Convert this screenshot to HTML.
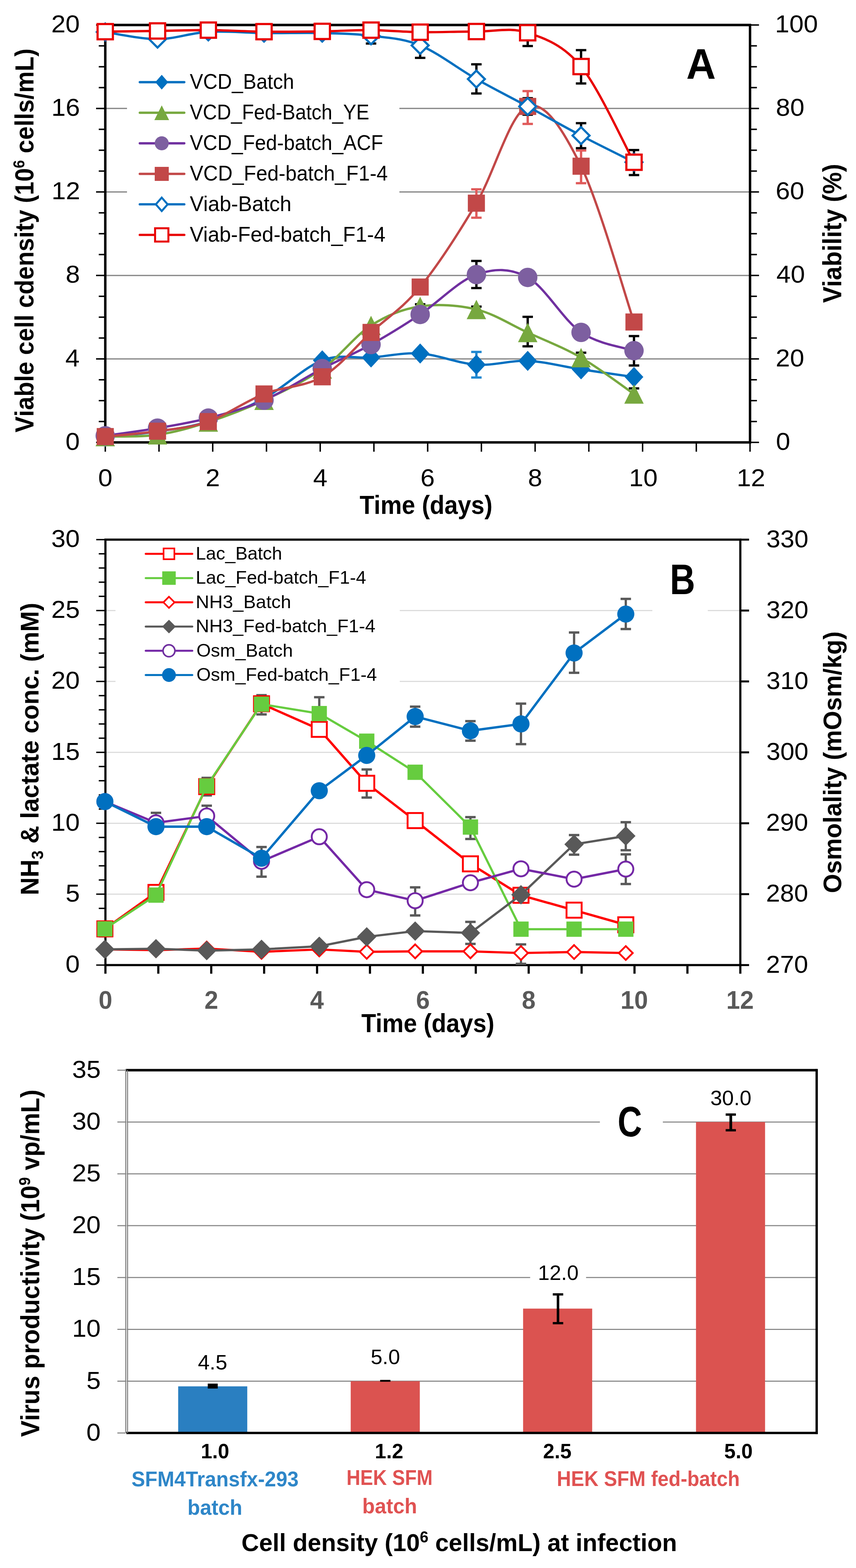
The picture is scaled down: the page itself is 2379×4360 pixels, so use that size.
<!DOCTYPE html>
<html><head><meta charset="utf-8"><title>Figure</title><style>html,body{margin:0;padding:0;background:#fff;overflow:hidden;}svg{display:block;}</style></head><body>
<svg width="2379" height="4360" viewBox="0 0 2379 4360" font-family="'Liberation Sans', Arial, sans-serif">
<rect width="100%" height="100%" fill="#fff"/>
<line x1="292.6" y1="998" x2="2084.5" y2="998" stroke="#878787" stroke-width="3.5" stroke-linecap="butt"/>
<line x1="292.6" y1="765.9" x2="2084.5" y2="765.9" stroke="#878787" stroke-width="3.5" stroke-linecap="butt"/>
<line x1="292.6" y1="533.7" x2="2084.5" y2="533.7" stroke="#878787" stroke-width="3.5" stroke-linecap="butt"/>
<line x1="292.6" y1="301.6" x2="2084.5" y2="301.6" stroke="#878787" stroke-width="3.5" stroke-linecap="butt"/>
<rect x="353" y="185" width="757" height="520" fill="#fff"/>
<line x1="267" y1="1230.1" x2="292.6" y2="1230.1" stroke="#000" stroke-width="4" stroke-linecap="butt"/>
<line x1="2084.5" y1="1230.1" x2="2109.4" y2="1230.1" stroke="#000" stroke-width="4" stroke-linecap="butt"/>
<line x1="274.5" y1="1172.1" x2="292.6" y2="1172.1" stroke="#000" stroke-width="4" stroke-linecap="butt"/>
<line x1="2084.5" y1="1172.1" x2="2103.6" y2="1172.1" stroke="#000" stroke-width="4" stroke-linecap="butt"/>
<line x1="274.5" y1="1114" x2="292.6" y2="1114" stroke="#000" stroke-width="4" stroke-linecap="butt"/>
<line x1="2084.5" y1="1114" x2="2103.6" y2="1114" stroke="#000" stroke-width="4" stroke-linecap="butt"/>
<line x1="274.5" y1="1056" x2="292.6" y2="1056" stroke="#000" stroke-width="4" stroke-linecap="butt"/>
<line x1="2084.5" y1="1056" x2="2103.6" y2="1056" stroke="#000" stroke-width="4" stroke-linecap="butt"/>
<line x1="267" y1="998" x2="292.6" y2="998" stroke="#000" stroke-width="4" stroke-linecap="butt"/>
<line x1="2084.5" y1="998" x2="2109.4" y2="998" stroke="#000" stroke-width="4" stroke-linecap="butt"/>
<line x1="274.5" y1="939.9" x2="292.6" y2="939.9" stroke="#000" stroke-width="4" stroke-linecap="butt"/>
<line x1="2084.5" y1="939.9" x2="2103.6" y2="939.9" stroke="#000" stroke-width="4" stroke-linecap="butt"/>
<line x1="274.5" y1="881.9" x2="292.6" y2="881.9" stroke="#000" stroke-width="4" stroke-linecap="butt"/>
<line x1="2084.5" y1="881.9" x2="2103.6" y2="881.9" stroke="#000" stroke-width="4" stroke-linecap="butt"/>
<line x1="274.5" y1="823.9" x2="292.6" y2="823.9" stroke="#000" stroke-width="4" stroke-linecap="butt"/>
<line x1="2084.5" y1="823.9" x2="2103.6" y2="823.9" stroke="#000" stroke-width="4" stroke-linecap="butt"/>
<line x1="267" y1="765.9" x2="292.6" y2="765.9" stroke="#000" stroke-width="4" stroke-linecap="butt"/>
<line x1="2084.5" y1="765.9" x2="2109.4" y2="765.9" stroke="#000" stroke-width="4" stroke-linecap="butt"/>
<line x1="274.5" y1="707.8" x2="292.6" y2="707.8" stroke="#000" stroke-width="4" stroke-linecap="butt"/>
<line x1="2084.5" y1="707.8" x2="2103.6" y2="707.8" stroke="#000" stroke-width="4" stroke-linecap="butt"/>
<line x1="274.5" y1="649.8" x2="292.6" y2="649.8" stroke="#000" stroke-width="4" stroke-linecap="butt"/>
<line x1="2084.5" y1="649.8" x2="2103.6" y2="649.8" stroke="#000" stroke-width="4" stroke-linecap="butt"/>
<line x1="274.5" y1="591.8" x2="292.6" y2="591.8" stroke="#000" stroke-width="4" stroke-linecap="butt"/>
<line x1="2084.5" y1="591.8" x2="2103.6" y2="591.8" stroke="#000" stroke-width="4" stroke-linecap="butt"/>
<line x1="267" y1="533.7" x2="292.6" y2="533.7" stroke="#000" stroke-width="4" stroke-linecap="butt"/>
<line x1="2084.5" y1="533.7" x2="2109.4" y2="533.7" stroke="#000" stroke-width="4" stroke-linecap="butt"/>
<line x1="274.5" y1="475.7" x2="292.6" y2="475.7" stroke="#000" stroke-width="4" stroke-linecap="butt"/>
<line x1="2084.5" y1="475.7" x2="2103.6" y2="475.7" stroke="#000" stroke-width="4" stroke-linecap="butt"/>
<line x1="274.5" y1="417.7" x2="292.6" y2="417.7" stroke="#000" stroke-width="4" stroke-linecap="butt"/>
<line x1="2084.5" y1="417.7" x2="2103.6" y2="417.7" stroke="#000" stroke-width="4" stroke-linecap="butt"/>
<line x1="274.5" y1="359.6" x2="292.6" y2="359.6" stroke="#000" stroke-width="4" stroke-linecap="butt"/>
<line x1="2084.5" y1="359.6" x2="2103.6" y2="359.6" stroke="#000" stroke-width="4" stroke-linecap="butt"/>
<line x1="267" y1="301.6" x2="292.6" y2="301.6" stroke="#000" stroke-width="4" stroke-linecap="butt"/>
<line x1="2084.5" y1="301.6" x2="2109.4" y2="301.6" stroke="#000" stroke-width="4" stroke-linecap="butt"/>
<line x1="274.5" y1="243.6" x2="292.6" y2="243.6" stroke="#000" stroke-width="4" stroke-linecap="butt"/>
<line x1="2084.5" y1="243.6" x2="2103.6" y2="243.6" stroke="#000" stroke-width="4" stroke-linecap="butt"/>
<line x1="274.5" y1="185.6" x2="292.6" y2="185.6" stroke="#000" stroke-width="4" stroke-linecap="butt"/>
<line x1="2084.5" y1="185.6" x2="2103.6" y2="185.6" stroke="#000" stroke-width="4" stroke-linecap="butt"/>
<line x1="274.5" y1="127.5" x2="292.6" y2="127.5" stroke="#000" stroke-width="4" stroke-linecap="butt"/>
<line x1="2084.5" y1="127.5" x2="2103.6" y2="127.5" stroke="#000" stroke-width="4" stroke-linecap="butt"/>
<line x1="267" y1="69.5" x2="292.6" y2="69.5" stroke="#000" stroke-width="4" stroke-linecap="butt"/>
<line x1="2084.5" y1="69.5" x2="2109.4" y2="69.5" stroke="#000" stroke-width="4" stroke-linecap="butt"/>
<line x1="292.6" y1="1230.1" x2="292.6" y2="1256" stroke="#000" stroke-width="4" stroke-linecap="butt"/>
<line x1="441.9" y1="1230.1" x2="441.9" y2="1256" stroke="#000" stroke-width="4" stroke-linecap="butt"/>
<line x1="591.2" y1="1230.1" x2="591.2" y2="1256" stroke="#000" stroke-width="4" stroke-linecap="butt"/>
<line x1="740.6" y1="1230.1" x2="740.6" y2="1256" stroke="#000" stroke-width="4" stroke-linecap="butt"/>
<line x1="889.9" y1="1230.1" x2="889.9" y2="1256" stroke="#000" stroke-width="4" stroke-linecap="butt"/>
<line x1="1039.2" y1="1230.1" x2="1039.2" y2="1256" stroke="#000" stroke-width="4" stroke-linecap="butt"/>
<line x1="1188.6" y1="1230.1" x2="1188.6" y2="1256" stroke="#000" stroke-width="4" stroke-linecap="butt"/>
<line x1="1337.9" y1="1230.1" x2="1337.9" y2="1256" stroke="#000" stroke-width="4" stroke-linecap="butt"/>
<line x1="1487.2" y1="1230.1" x2="1487.2" y2="1256" stroke="#000" stroke-width="4" stroke-linecap="butt"/>
<line x1="1636.5" y1="1230.1" x2="1636.5" y2="1256" stroke="#000" stroke-width="4" stroke-linecap="butt"/>
<line x1="1785.9" y1="1230.1" x2="1785.9" y2="1256" stroke="#000" stroke-width="4" stroke-linecap="butt"/>
<line x1="1935.2" y1="1230.1" x2="1935.2" y2="1256" stroke="#000" stroke-width="4" stroke-linecap="butt"/>
<line x1="2084.5" y1="1230.1" x2="2084.5" y2="1256" stroke="#000" stroke-width="4" stroke-linecap="butt"/>
<path d="M292.6,69.5 H2084.5 V1230.1 H292.6 Z" fill="none" stroke="#000" stroke-width="6.8"/>
<line x1="1324" y1="978.6" x2="1324" y2="1049.7" stroke="#1F87D0" stroke-width="6.5" stroke-linecap="butt"/>
<line x1="1309.5" y1="978.6" x2="1338.5" y2="978.6" stroke="#1F87D0" stroke-width="6.3" stroke-linecap="butt"/>
<line x1="1309.5" y1="1049.7" x2="1338.5" y2="1049.7" stroke="#1F87D0" stroke-width="6.3" stroke-linecap="butt"/>
<line x1="1167.7" y1="846" x2="1167.7" y2="858" stroke="#000" stroke-width="6.5" stroke-linecap="butt"/>
<line x1="1153.2" y1="846" x2="1182.2" y2="846" stroke="#000" stroke-width="6.3" stroke-linecap="butt"/>
<line x1="1153.2" y1="858" x2="1182.2" y2="858" stroke="#000" stroke-width="6.3" stroke-linecap="butt"/>
<line x1="1324" y1="852.5" x2="1324" y2="868.5" stroke="#000" stroke-width="6.5" stroke-linecap="butt"/>
<line x1="1309.5" y1="852.5" x2="1338.5" y2="852.5" stroke="#000" stroke-width="6.3" stroke-linecap="butt"/>
<line x1="1309.5" y1="868.5" x2="1338.5" y2="868.5" stroke="#000" stroke-width="6.3" stroke-linecap="butt"/>
<line x1="1466.6" y1="881" x2="1466.6" y2="963" stroke="#000" stroke-width="6.5" stroke-linecap="butt"/>
<line x1="1452.1" y1="881" x2="1481.1" y2="881" stroke="#000" stroke-width="6.3" stroke-linecap="butt"/>
<line x1="1452.1" y1="963" x2="1481.1" y2="963" stroke="#000" stroke-width="6.3" stroke-linecap="butt"/>
<line x1="1614.9" y1="980.7" x2="1614.9" y2="1016" stroke="#000" stroke-width="6.5" stroke-linecap="butt"/>
<line x1="1600.4" y1="980.7" x2="1629.4" y2="980.7" stroke="#000" stroke-width="6.3" stroke-linecap="butt"/>
<line x1="1600.4" y1="1016" x2="1629.4" y2="1016" stroke="#000" stroke-width="6.3" stroke-linecap="butt"/>
<line x1="1762" y1="1080" x2="1762" y2="1116" stroke="#000" stroke-width="6.5" stroke-linecap="butt"/>
<line x1="1747.5" y1="1080" x2="1776.5" y2="1080" stroke="#000" stroke-width="6.3" stroke-linecap="butt"/>
<line x1="1747.5" y1="1116" x2="1776.5" y2="1116" stroke="#000" stroke-width="6.3" stroke-linecap="butt"/>
<line x1="1324" y1="725.6" x2="1324" y2="801" stroke="#000" stroke-width="6.5" stroke-linecap="butt"/>
<line x1="1309.5" y1="725.6" x2="1338.5" y2="725.6" stroke="#000" stroke-width="6.3" stroke-linecap="butt"/>
<line x1="1309.5" y1="801" x2="1338.5" y2="801" stroke="#000" stroke-width="6.3" stroke-linecap="butt"/>
<line x1="1762" y1="934.5" x2="1762" y2="1016.3" stroke="#000" stroke-width="6.5" stroke-linecap="butt"/>
<line x1="1747.5" y1="934.5" x2="1776.5" y2="934.5" stroke="#000" stroke-width="6.3" stroke-linecap="butt"/>
<line x1="1747.5" y1="1016.3" x2="1776.5" y2="1016.3" stroke="#000" stroke-width="6.3" stroke-linecap="butt"/>
<line x1="1324" y1="526.4" x2="1324" y2="605.4" stroke="#E05A5A" stroke-width="6.5" stroke-linecap="butt"/>
<line x1="1309.5" y1="526.4" x2="1338.5" y2="526.4" stroke="#E05A5A" stroke-width="6.3" stroke-linecap="butt"/>
<line x1="1309.5" y1="605.4" x2="1338.5" y2="605.4" stroke="#E05A5A" stroke-width="6.3" stroke-linecap="butt"/>
<line x1="1466.6" y1="253.3" x2="1466.6" y2="344.6" stroke="#E05A5A" stroke-width="6.5" stroke-linecap="butt"/>
<line x1="1452.1" y1="253.3" x2="1481.1" y2="253.3" stroke="#E05A5A" stroke-width="6.3" stroke-linecap="butt"/>
<line x1="1452.1" y1="344.6" x2="1481.1" y2="344.6" stroke="#E05A5A" stroke-width="6.3" stroke-linecap="butt"/>
<line x1="1614.9" y1="418.5" x2="1614.9" y2="509.4" stroke="#E05A5A" stroke-width="6.5" stroke-linecap="butt"/>
<line x1="1600.4" y1="418.5" x2="1629.4" y2="418.5" stroke="#E05A5A" stroke-width="6.3" stroke-linecap="butt"/>
<line x1="1600.4" y1="509.4" x2="1629.4" y2="509.4" stroke="#E05A5A" stroke-width="6.3" stroke-linecap="butt"/>
<line x1="1031.2" y1="74.6" x2="1031.2" y2="121" stroke="#000" stroke-width="6.5" stroke-linecap="butt"/>
<line x1="1016.7" y1="74.6" x2="1045.7" y2="74.6" stroke="#000" stroke-width="6.3" stroke-linecap="butt"/>
<line x1="1016.7" y1="121" x2="1045.7" y2="121" stroke="#000" stroke-width="6.3" stroke-linecap="butt"/>
<line x1="1167.7" y1="92" x2="1167.7" y2="160.9" stroke="#000" stroke-width="6.5" stroke-linecap="butt"/>
<line x1="1153.2" y1="92" x2="1182.2" y2="92" stroke="#000" stroke-width="6.3" stroke-linecap="butt"/>
<line x1="1153.2" y1="160.9" x2="1182.2" y2="160.9" stroke="#000" stroke-width="6.3" stroke-linecap="butt"/>
<line x1="1324" y1="178.8" x2="1324" y2="259.9" stroke="#000" stroke-width="6.5" stroke-linecap="butt"/>
<line x1="1309.5" y1="178.8" x2="1338.5" y2="178.8" stroke="#000" stroke-width="6.3" stroke-linecap="butt"/>
<line x1="1309.5" y1="259.9" x2="1338.5" y2="259.9" stroke="#000" stroke-width="6.3" stroke-linecap="butt"/>
<line x1="1466.6" y1="273" x2="1466.6" y2="319" stroke="#000" stroke-width="6.5" stroke-linecap="butt"/>
<line x1="1452.1" y1="273" x2="1481.1" y2="273" stroke="#000" stroke-width="6.3" stroke-linecap="butt"/>
<line x1="1452.1" y1="319" x2="1481.1" y2="319" stroke="#000" stroke-width="6.3" stroke-linecap="butt"/>
<line x1="1614.9" y1="342.5" x2="1614.9" y2="412" stroke="#000" stroke-width="6.5" stroke-linecap="butt"/>
<line x1="1600.4" y1="342.5" x2="1629.4" y2="342.5" stroke="#000" stroke-width="6.3" stroke-linecap="butt"/>
<line x1="1600.4" y1="412" x2="1629.4" y2="412" stroke="#000" stroke-width="6.3" stroke-linecap="butt"/>
<line x1="1762" y1="417.2" x2="1762" y2="486.8" stroke="#000" stroke-width="6.5" stroke-linecap="butt"/>
<line x1="1747.5" y1="417.2" x2="1776.5" y2="417.2" stroke="#000" stroke-width="6.3" stroke-linecap="butt"/>
<line x1="1747.5" y1="486.8" x2="1776.5" y2="486.8" stroke="#000" stroke-width="6.3" stroke-linecap="butt"/>
<line x1="1466.6" y1="72" x2="1466.6" y2="128" stroke="#000" stroke-width="6.5" stroke-linecap="butt"/>
<line x1="1452.1" y1="128" x2="1481.1" y2="128" stroke="#000" stroke-width="6.3" stroke-linecap="butt"/>
<line x1="1614.9" y1="139.4" x2="1614.9" y2="232.1" stroke="#000" stroke-width="6.5" stroke-linecap="butt"/>
<line x1="1600.4" y1="139.4" x2="1629.4" y2="139.4" stroke="#000" stroke-width="6.3" stroke-linecap="butt"/>
<line x1="1600.4" y1="232.1" x2="1629.4" y2="232.1" stroke="#000" stroke-width="6.3" stroke-linecap="butt"/>
<path d="M292.5,1215 C316.7,1212.5 390.1,1207.2 437.8,1200 C485.6,1192.8 529.7,1187.3 579,1172 C628.3,1156.7 681,1136.3 733.8,1108 C786.6,1079.7 846,1021 895.6,1002 C945.2,983 985.9,997.2 1031.2,994 C1076.5,990.8 1118.9,979.7 1167.7,983 C1216.5,986.3 1274.2,1010.6 1324,1014 C1373.8,1017.4 1418.1,1001.3 1466.6,1003.5 C1515.1,1005.7 1565.7,1019.5 1614.9,1027 C1664.1,1034.5 1737.5,1044.8 1762,1048.3" fill="none" stroke="#0070C0" stroke-width="6.4" stroke-linejoin="round" stroke-linecap="round"/>
<path d="M292.5,1186.9 L318.5,1215 L292.5,1243.1 L266.5,1215 Z" fill="#0070C0" stroke-linejoin="miter"/>
<path d="M437.8,1171.9 L463.8,1200 L437.8,1228.1 L411.8,1200 Z" fill="#0070C0" stroke-linejoin="miter"/>
<path d="M579,1143.9 L605,1172 L579,1200.1 L553,1172 Z" fill="#0070C0" stroke-linejoin="miter"/>
<path d="M733.8,1079.9 L759.8,1108 L733.8,1136.1 L707.8,1108 Z" fill="#0070C0" stroke-linejoin="miter"/>
<path d="M895.6,973.9 L921.6,1002 L895.6,1030.1 L869.6,1002 Z" fill="#0070C0" stroke-linejoin="miter"/>
<path d="M1031.2,965.9 L1057.2,994 L1031.2,1022.1 L1005.2,994 Z" fill="#0070C0" stroke-linejoin="miter"/>
<path d="M1167.7,954.9 L1193.7,983 L1167.7,1011.1 L1141.7,983 Z" fill="#0070C0" stroke-linejoin="miter"/>
<path d="M1324,985.9 L1350,1014 L1324,1042.1 L1298,1014 Z" fill="#0070C0" stroke-linejoin="miter"/>
<path d="M1466.6,975.4 L1492.6,1003.5 L1466.6,1031.6 L1440.6,1003.5 Z" fill="#0070C0" stroke-linejoin="miter"/>
<path d="M1614.9,998.9 L1640.9,1027 L1614.9,1055.1 L1588.9,1027 Z" fill="#0070C0" stroke-linejoin="miter"/>
<path d="M1762,1020.2 L1788,1048.3 L1762,1076.4 L1736,1048.3 Z" fill="#0070C0" stroke-linejoin="miter"/>
<path d="M292.5,1214 C316.7,1213.2 390.1,1215.8 437.8,1209 C485.6,1202.2 529.7,1189.5 579,1173.5 C628.3,1157.5 681,1137.6 733.8,1113 C786.6,1088.4 846,1060.7 895.6,1026 C945.2,991.3 985.9,934 1031.2,905 C1076.5,876 1118.9,859.4 1167.7,852 C1216.5,844.6 1274.2,848.4 1324,860.5 C1373.8,872.6 1418.1,902.3 1466.6,924.6 C1515.1,946.9 1565.7,966 1614.9,994.5 C1664.1,1023 1737.5,1078.7 1762,1095.5" fill="none" stroke="#77A83F" stroke-width="6.4" stroke-linejoin="round" stroke-linecap="round"/>
<path d="M292.5,1187 L319.5,1241 L265.5,1241 Z" fill="#77A83F"/>
<path d="M437.8,1182 L464.8,1236 L410.8,1236 Z" fill="#77A83F"/>
<path d="M579,1146.5 L606,1200.5 L552,1200.5 Z" fill="#77A83F"/>
<path d="M733.8,1086 L760.8,1140 L706.8,1140 Z" fill="#77A83F"/>
<path d="M895.6,999 L922.6,1053 L868.6,1053 Z" fill="#77A83F"/>
<path d="M1031.2,878 L1058.2,932 L1004.2,932 Z" fill="#77A83F"/>
<path d="M1167.7,825 L1194.7,879 L1140.7,879 Z" fill="#77A83F"/>
<path d="M1324,833.5 L1351,887.5 L1297,887.5 Z" fill="#77A83F"/>
<path d="M1466.6,897.6 L1493.6,951.6 L1439.6,951.6 Z" fill="#77A83F"/>
<path d="M1614.9,967.5 L1641.9,1021.5 L1587.9,1021.5 Z" fill="#77A83F"/>
<path d="M1762,1068.5 L1789,1122.5 L1735,1122.5 Z" fill="#77A83F"/>
<path d="M292.5,1211.7 C316.7,1208.2 390.1,1198.6 437.8,1190.4 C485.6,1182.2 529.7,1175.5 579,1162.6 C628.3,1149.7 681,1135.9 733.8,1113 C786.6,1090.1 846,1050.8 895.6,1025 C945.2,999.2 985.9,983.1 1031.2,958 C1076.5,932.9 1118.9,906.8 1167.7,874.4 C1216.5,842 1274.2,780.7 1324,763.5 C1373.8,746.3 1418.1,744.6 1466.6,771.4 C1515.1,798.2 1565.7,890.3 1614.9,924.2 C1664.1,958.1 1737.5,966.5 1762,975" fill="none" stroke="#7030A0" stroke-width="6.4" stroke-linejoin="round" stroke-linecap="round"/>
<circle cx="292.5" cy="1211.7" r="27" fill="#7D5FA0"/>
<circle cx="437.8" cy="1190.4" r="27" fill="#7D5FA0"/>
<circle cx="579" cy="1162.6" r="27" fill="#7D5FA0"/>
<circle cx="733.8" cy="1113" r="27" fill="#7D5FA0"/>
<circle cx="895.6" cy="1025" r="27" fill="#7D5FA0"/>
<circle cx="1031.2" cy="958" r="27" fill="#7D5FA0"/>
<circle cx="1167.7" cy="874.4" r="27" fill="#7D5FA0"/>
<circle cx="1324" cy="763.5" r="27" fill="#7D5FA0"/>
<circle cx="1466.6" cy="771.4" r="27" fill="#7D5FA0"/>
<circle cx="1614.9" cy="924.2" r="27" fill="#7D5FA0"/>
<circle cx="1762" cy="975" r="27" fill="#7D5FA0"/>
<path d="M292.5,1214 C316.7,1211.5 390.1,1206 437.8,1199 C485.6,1192 529.7,1189.5 579,1172.2 C628.3,1154.9 681,1116.2 733.8,1095.4 C786.6,1074.7 846,1076.2 895.6,1047.7 C945.2,1019.2 985.9,966 1031.2,924.4 C1076.5,882.8 1118.9,858 1167.7,798.1 C1216.5,738.2 1274.2,648.7 1324,565 C1373.8,481.3 1418.1,313.1 1466.6,296 C1515.1,278.9 1565.7,362.3 1614.9,462.2 C1664.1,562.1 1737.5,823.2 1762,895.4" fill="none" stroke="#C24848" stroke-width="6.4" stroke-linejoin="round" stroke-linecap="round"/>
<rect x="268.8" y="1190.2" width="47.5" height="47.5" fill="#C24848"/>
<rect x="414.1" y="1175.2" width="47.5" height="47.5" fill="#C24848"/>
<rect x="555.2" y="1148.5" width="47.5" height="47.5" fill="#C24848"/>
<rect x="710" y="1071.7" width="47.5" height="47.5" fill="#C24848"/>
<rect x="871.9" y="1024" width="47.5" height="47.5" fill="#C24848"/>
<rect x="1007.5" y="900.6" width="47.5" height="47.5" fill="#C24848"/>
<rect x="1144" y="774.4" width="47.5" height="47.5" fill="#C24848"/>
<rect x="1300.2" y="541.2" width="47.5" height="47.5" fill="#C24848"/>
<rect x="1442.8" y="272.2" width="47.5" height="47.5" fill="#C24848"/>
<rect x="1591.2" y="438.4" width="47.5" height="47.5" fill="#C24848"/>
<rect x="1738.2" y="871.6" width="47.5" height="47.5" fill="#C24848"/>
<path d="M292.5,89 C316.7,92.3 390.1,108.9 437.8,108.8 C485.6,108.7 529.7,91.3 579,88.5 C628.3,85.7 681,91.4 733.8,92 C786.6,92.6 846,90.8 895.6,92 C945.2,93.2 985.9,93.8 1031.2,99.5 C1076.5,105.2 1118.9,106.2 1167.7,126.3 C1216.5,146.3 1274.2,191.5 1324,219.8 C1373.8,248.1 1418.1,269.8 1466.6,296 C1515.1,322.2 1565.7,351.2 1614.9,377 C1664.1,402.8 1737.5,438.7 1762,451" fill="none" stroke="#0070C0" stroke-width="6.4" stroke-linejoin="round" stroke-linecap="round"/>
<path d="M292.5,65.5 L316,89 L292.5,112.5 L269,89 Z" fill="#fff" stroke="#0070C0" stroke-width="6" stroke-linejoin="miter"/>
<path d="M437.8,85.3 L461.3,108.8 L437.8,132.3 L414.3,108.8 Z" fill="#fff" stroke="#0070C0" stroke-width="6" stroke-linejoin="miter"/>
<path d="M579,65 L602.5,88.5 L579,112 L555.5,88.5 Z" fill="#fff" stroke="#0070C0" stroke-width="6" stroke-linejoin="miter"/>
<path d="M733.8,68.5 L757.3,92 L733.8,115.5 L710.3,92 Z" fill="#fff" stroke="#0070C0" stroke-width="6" stroke-linejoin="miter"/>
<path d="M895.6,68.5 L919.1,92 L895.6,115.5 L872.1,92 Z" fill="#fff" stroke="#0070C0" stroke-width="6" stroke-linejoin="miter"/>
<path d="M1031.2,76 L1054.7,99.5 L1031.2,123 L1007.7,99.5 Z" fill="#fff" stroke="#0070C0" stroke-width="6" stroke-linejoin="miter"/>
<path d="M1167.7,102.8 L1191.2,126.3 L1167.7,149.8 L1144.2,126.3 Z" fill="#fff" stroke="#0070C0" stroke-width="6" stroke-linejoin="miter"/>
<path d="M1324,196.3 L1347.5,219.8 L1324,243.3 L1300.5,219.8 Z" fill="#fff" stroke="#0070C0" stroke-width="6" stroke-linejoin="miter"/>
<path d="M1466.6,272.5 L1490.1,296 L1466.6,319.5 L1443.1,296 Z" fill="#fff" stroke="#0070C0" stroke-width="6" stroke-linejoin="miter"/>
<path d="M1614.9,353.5 L1638.4,377 L1614.9,400.5 L1591.4,377 Z" fill="#fff" stroke="#0070C0" stroke-width="6" stroke-linejoin="miter"/>
<path d="M1762,427.5 L1785.5,451 L1762,474.5 L1738.5,451 Z" fill="#fff" stroke="#0070C0" stroke-width="6" stroke-linejoin="miter"/>
<path d="M292.5,88 C316.7,87.7 390.1,86.7 437.8,86 C485.6,85.3 529.7,83.5 579,83.8 C628.3,84.1 681,87.4 733.8,88 C786.6,88.6 846,87.9 895.6,87.2 C945.2,86.5 985.9,83.3 1031.2,83.7 C1076.5,84.1 1118.9,88.7 1167.7,89.4 C1216.5,90.1 1274.2,87.4 1324,87.7 C1373.8,88 1418.1,74.8 1466.6,91 C1515.1,107.2 1565.7,125 1614.9,185 C1664.1,245 1737.5,406.8 1762,451.2" fill="none" stroke="#E80000" stroke-width="6.4" stroke-linejoin="round" stroke-linecap="round"/>
<rect x="271.2" y="66.8" width="42.5" height="42.5" fill="#fff" stroke="#E80000" stroke-width="6"/>
<rect x="416.6" y="64.8" width="42.5" height="42.5" fill="#fff" stroke="#E80000" stroke-width="6"/>
<rect x="557.8" y="62.5" width="42.5" height="42.5" fill="#fff" stroke="#E80000" stroke-width="6"/>
<rect x="712.5" y="66.8" width="42.5" height="42.5" fill="#fff" stroke="#E80000" stroke-width="6"/>
<rect x="874.4" y="66" width="42.5" height="42.5" fill="#fff" stroke="#E80000" stroke-width="6"/>
<rect x="1010" y="62.5" width="42.5" height="42.5" fill="#fff" stroke="#E80000" stroke-width="6"/>
<rect x="1146.5" y="68.2" width="42.5" height="42.5" fill="#fff" stroke="#E80000" stroke-width="6"/>
<rect x="1302.8" y="66.5" width="42.5" height="42.5" fill="#fff" stroke="#E80000" stroke-width="6"/>
<rect x="1445.3" y="69.8" width="42.5" height="42.5" fill="#fff" stroke="#E80000" stroke-width="6"/>
<rect x="1593.7" y="163.8" width="42.5" height="42.5" fill="#fff" stroke="#E80000" stroke-width="6"/>
<rect x="1740.8" y="429.9" width="42.5" height="42.5" fill="#fff" stroke="#E80000" stroke-width="6"/>
<line x1="388.5" y1="228.5" x2="512.2" y2="228.5" stroke="#0070C0" stroke-width="6.3" stroke-linecap="round"/>
<path d="M449.5,208.1 L467.4,228.5 L449.5,248.9 L431.6,228.5 Z" fill="#0070C0" stroke-linejoin="miter"/>
<text x="527.5" y="247" font-size="59" fill="#000" textLength="289.8" lengthAdjust="spacingAndGlyphs">VCD_Batch</text>
<line x1="388.5" y1="313.5" x2="512.2" y2="313.5" stroke="#77A83F" stroke-width="6.3" stroke-linecap="round"/>
<path d="M449.5,293 L470,334 L429,334 Z" fill="#77A83F"/>
<text x="527.5" y="331.5" font-size="59" fill="#000" textLength="498.9" lengthAdjust="spacingAndGlyphs">VCD_Fed-Batch_YE</text>
<line x1="388.5" y1="398.5" x2="512.2" y2="398.5" stroke="#7030A0" stroke-width="6.3" stroke-linecap="round"/>
<circle cx="449.5" cy="398.5" r="19.5" fill="#7D5FA0"/>
<text x="527.5" y="416.9" font-size="59" fill="#000" textLength="537.3" lengthAdjust="spacingAndGlyphs">VCD_Fed-batch_ACF</text>
<line x1="388.5" y1="483.5" x2="512.2" y2="483.5" stroke="#C24848" stroke-width="6.3" stroke-linecap="round"/>
<rect x="430" y="464" width="39" height="39" fill="#C24848"/>
<text x="527.5" y="502" font-size="59" fill="#000" textLength="550.2" lengthAdjust="spacingAndGlyphs">VCD_Fed-batch_F1-4</text>
<line x1="388.5" y1="568.2" x2="512.2" y2="568.2" stroke="#0070C0" stroke-width="6.3" stroke-linecap="round"/>
<path d="M449.5,549.5 L465.9,568.2 L449.5,586.9 L433.1,568.2 Z" fill="#fff" stroke="#0070C0" stroke-width="5.5" stroke-linejoin="miter"/>
<text x="527.4" y="586.7" font-size="59" fill="#000" textLength="282.7" lengthAdjust="spacingAndGlyphs">Viab-Batch</text>
<line x1="388.5" y1="653.2" x2="512.2" y2="653.2" stroke="#E80000" stroke-width="6.3" stroke-linecap="round"/>
<rect x="431" y="634.7" width="37" height="37" fill="#fff" stroke="#E80000" stroke-width="5.5"/>
<text x="527.4" y="672" font-size="59" fill="#000" textLength="544" lengthAdjust="spacingAndGlyphs">Viab-Fed-batch_F1-4</text>
<text x="1907.2" y="218.6" font-size="118" font-weight="bold" fill="#000" textLength="82.2" lengthAdjust="spacingAndGlyphs">A</text>
<text x="182.1" y="1250.6" font-size="68" fill="#000" textLength="39.7" lengthAdjust="spacingAndGlyphs">0</text>
<text x="181.4" y="1018.5" font-size="68" fill="#000" textLength="39.7" lengthAdjust="spacingAndGlyphs">4</text>
<text x="182.4" y="786.4" font-size="68" fill="#000" textLength="39.7" lengthAdjust="spacingAndGlyphs">8</text>
<text x="143.2" y="554.2" font-size="68" fill="#000" textLength="79.4" lengthAdjust="spacingAndGlyphs">12</text>
<text x="142.7" y="322.1" font-size="68" fill="#000" textLength="79.4" lengthAdjust="spacingAndGlyphs">16</text>
<text x="142.4" y="90" font-size="68" fill="#000" textLength="79.4" lengthAdjust="spacingAndGlyphs">20</text>
<text x="2156.6" y="1250.6" font-size="68" fill="#000" textLength="39.7" lengthAdjust="spacingAndGlyphs">0</text>
<text x="2155.8" y="1018.5" font-size="68" fill="#000" textLength="79.4" lengthAdjust="spacingAndGlyphs">20</text>
<text x="2157.8" y="786.4" font-size="68" fill="#000" textLength="79.4" lengthAdjust="spacingAndGlyphs">40</text>
<text x="2155.8" y="554.2" font-size="68" fill="#000" textLength="79.4" lengthAdjust="spacingAndGlyphs">60</text>
<text x="2156.3" y="322.1" font-size="68" fill="#000" textLength="79.4" lengthAdjust="spacingAndGlyphs">80</text>
<text x="2154" y="90" font-size="68" fill="#000" textLength="119.1" lengthAdjust="spacingAndGlyphs">100</text>
<text x="272.7" y="1352" font-size="68" fill="#000" textLength="39.7" lengthAdjust="spacingAndGlyphs">0</text>
<text x="571.4" y="1352" font-size="68" fill="#000" textLength="39.7" lengthAdjust="spacingAndGlyphs">2</text>
<text x="870.3" y="1352" font-size="68" fill="#000" textLength="39.7" lengthAdjust="spacingAndGlyphs">4</text>
<text x="1168.5" y="1352" font-size="68" fill="#000" textLength="39.7" lengthAdjust="spacingAndGlyphs">6</text>
<text x="1467.3" y="1352" font-size="68" fill="#000" textLength="39.7" lengthAdjust="spacingAndGlyphs">8</text>
<text x="1748.3" y="1352" font-size="68" fill="#000" textLength="79.4" lengthAdjust="spacingAndGlyphs">10</text>
<text x="2047.4" y="1352" font-size="68" fill="#000" textLength="79.4" lengthAdjust="spacingAndGlyphs">12</text>
<text x="999.6" y="1429.4" font-size="71.4" font-weight="bold" fill="#000" textLength="369" lengthAdjust="spacingAndGlyphs">Time (days)</text>
<text x="-1202.4" y="0" transform="translate(93.4,0) rotate(-90)" font-size="72" font-weight="bold" fill="#000" textLength="1067.6" lengthAdjust="spacingAndGlyphs">Viable cell cdensity (10<tspan font-size="44" dy="-25">6</tspan><tspan dy="25"> cells/mL)</tspan></text>
<text x="-842.3" y="0" transform="translate(2338.3,0) rotate(-90)" font-size="72" font-weight="bold" fill="#000" textLength="386.5" lengthAdjust="spacingAndGlyphs">Viability (%)</text>
<line x1="293" y1="2486.3" x2="2057.5" y2="2486.3" stroke="#D9D9D9" stroke-width="3" stroke-linecap="butt"/>
<line x1="293" y1="2289.2" x2="2057.5" y2="2289.2" stroke="#D9D9D9" stroke-width="3" stroke-linecap="butt"/>
<line x1="293" y1="2092" x2="2057.5" y2="2092" stroke="#D9D9D9" stroke-width="3" stroke-linecap="butt"/>
<line x1="293" y1="1894.8" x2="2057.5" y2="1894.8" stroke="#D9D9D9" stroke-width="3" stroke-linecap="butt"/>
<line x1="293" y1="1697.7" x2="2057.5" y2="1697.7" stroke="#D9D9D9" stroke-width="3" stroke-linecap="butt"/>
<rect x="321" y="1505" width="790" height="397" fill="#fff"/>
<rect x="1813" y="1560" width="154" height="160" fill="#fff"/>
<line x1="267.4" y1="2683.5" x2="293" y2="2683.5" stroke="#000" stroke-width="3.8" stroke-linecap="butt"/>
<line x1="2057.5" y1="2683.5" x2="2081.8" y2="2683.5" stroke="#000" stroke-width="5.5" stroke-linecap="butt"/>
<line x1="274.5" y1="2644.1" x2="293" y2="2644.1" stroke="#000" stroke-width="3.8" stroke-linecap="butt"/>
<line x1="274.5" y1="2604.6" x2="293" y2="2604.6" stroke="#000" stroke-width="3.8" stroke-linecap="butt"/>
<line x1="274.5" y1="2565.2" x2="293" y2="2565.2" stroke="#000" stroke-width="3.8" stroke-linecap="butt"/>
<line x1="274.5" y1="2525.8" x2="293" y2="2525.8" stroke="#000" stroke-width="3.8" stroke-linecap="butt"/>
<line x1="267.4" y1="2486.3" x2="293" y2="2486.3" stroke="#000" stroke-width="3.8" stroke-linecap="butt"/>
<line x1="2057.5" y1="2486.3" x2="2081.8" y2="2486.3" stroke="#000" stroke-width="5.5" stroke-linecap="butt"/>
<line x1="274.5" y1="2446.9" x2="293" y2="2446.9" stroke="#000" stroke-width="3.8" stroke-linecap="butt"/>
<line x1="274.5" y1="2407.5" x2="293" y2="2407.5" stroke="#000" stroke-width="3.8" stroke-linecap="butt"/>
<line x1="274.5" y1="2368" x2="293" y2="2368" stroke="#000" stroke-width="3.8" stroke-linecap="butt"/>
<line x1="274.5" y1="2328.6" x2="293" y2="2328.6" stroke="#000" stroke-width="3.8" stroke-linecap="butt"/>
<line x1="267.4" y1="2289.2" x2="293" y2="2289.2" stroke="#000" stroke-width="3.8" stroke-linecap="butt"/>
<line x1="2057.5" y1="2289.2" x2="2081.8" y2="2289.2" stroke="#000" stroke-width="5.5" stroke-linecap="butt"/>
<line x1="274.5" y1="2249.7" x2="293" y2="2249.7" stroke="#000" stroke-width="3.8" stroke-linecap="butt"/>
<line x1="274.5" y1="2210.3" x2="293" y2="2210.3" stroke="#000" stroke-width="3.8" stroke-linecap="butt"/>
<line x1="274.5" y1="2170.9" x2="293" y2="2170.9" stroke="#000" stroke-width="3.8" stroke-linecap="butt"/>
<line x1="274.5" y1="2131.4" x2="293" y2="2131.4" stroke="#000" stroke-width="3.8" stroke-linecap="butt"/>
<line x1="267.4" y1="2092" x2="293" y2="2092" stroke="#000" stroke-width="3.8" stroke-linecap="butt"/>
<line x1="2057.5" y1="2092" x2="2081.8" y2="2092" stroke="#000" stroke-width="5.5" stroke-linecap="butt"/>
<line x1="274.5" y1="2052.6" x2="293" y2="2052.6" stroke="#000" stroke-width="3.8" stroke-linecap="butt"/>
<line x1="274.5" y1="2013.1" x2="293" y2="2013.1" stroke="#000" stroke-width="3.8" stroke-linecap="butt"/>
<line x1="274.5" y1="1973.7" x2="293" y2="1973.7" stroke="#000" stroke-width="3.8" stroke-linecap="butt"/>
<line x1="274.5" y1="1934.3" x2="293" y2="1934.3" stroke="#000" stroke-width="3.8" stroke-linecap="butt"/>
<line x1="267.4" y1="1894.8" x2="293" y2="1894.8" stroke="#000" stroke-width="3.8" stroke-linecap="butt"/>
<line x1="2057.5" y1="1894.8" x2="2081.8" y2="1894.8" stroke="#000" stroke-width="5.5" stroke-linecap="butt"/>
<line x1="274.5" y1="1855.4" x2="293" y2="1855.4" stroke="#000" stroke-width="3.8" stroke-linecap="butt"/>
<line x1="274.5" y1="1816" x2="293" y2="1816" stroke="#000" stroke-width="3.8" stroke-linecap="butt"/>
<line x1="274.5" y1="1776.5" x2="293" y2="1776.5" stroke="#000" stroke-width="3.8" stroke-linecap="butt"/>
<line x1="274.5" y1="1737.1" x2="293" y2="1737.1" stroke="#000" stroke-width="3.8" stroke-linecap="butt"/>
<line x1="267.4" y1="1697.7" x2="293" y2="1697.7" stroke="#000" stroke-width="3.8" stroke-linecap="butt"/>
<line x1="2057.5" y1="1697.7" x2="2081.8" y2="1697.7" stroke="#000" stroke-width="5.5" stroke-linecap="butt"/>
<line x1="274.5" y1="1658.2" x2="293" y2="1658.2" stroke="#000" stroke-width="3.8" stroke-linecap="butt"/>
<line x1="274.5" y1="1618.8" x2="293" y2="1618.8" stroke="#000" stroke-width="3.8" stroke-linecap="butt"/>
<line x1="274.5" y1="1579.4" x2="293" y2="1579.4" stroke="#000" stroke-width="3.8" stroke-linecap="butt"/>
<line x1="274.5" y1="1539.9" x2="293" y2="1539.9" stroke="#000" stroke-width="3.8" stroke-linecap="butt"/>
<line x1="267.4" y1="1500.5" x2="293" y2="1500.5" stroke="#000" stroke-width="3.8" stroke-linecap="butt"/>
<line x1="2057.5" y1="1500.5" x2="2081.8" y2="1500.5" stroke="#000" stroke-width="5.5" stroke-linecap="butt"/>
<line x1="293" y1="2683.5" x2="293" y2="2707.5" stroke="#000" stroke-width="6" stroke-linecap="butt"/>
<line x1="440" y1="2683.5" x2="440" y2="2707.5" stroke="#000" stroke-width="6" stroke-linecap="butt"/>
<line x1="587.1" y1="2683.5" x2="587.1" y2="2707.5" stroke="#000" stroke-width="6" stroke-linecap="butt"/>
<line x1="734.1" y1="2683.5" x2="734.1" y2="2707.5" stroke="#000" stroke-width="6" stroke-linecap="butt"/>
<line x1="881.2" y1="2683.5" x2="881.2" y2="2707.5" stroke="#000" stroke-width="6" stroke-linecap="butt"/>
<line x1="1028.2" y1="2683.5" x2="1028.2" y2="2707.5" stroke="#000" stroke-width="6" stroke-linecap="butt"/>
<line x1="1175.2" y1="2683.5" x2="1175.2" y2="2707.5" stroke="#000" stroke-width="6" stroke-linecap="butt"/>
<line x1="1322.3" y1="2683.5" x2="1322.3" y2="2707.5" stroke="#000" stroke-width="6" stroke-linecap="butt"/>
<line x1="1469.3" y1="2683.5" x2="1469.3" y2="2707.5" stroke="#000" stroke-width="6" stroke-linecap="butt"/>
<line x1="1616.4" y1="2683.5" x2="1616.4" y2="2707.5" stroke="#000" stroke-width="6" stroke-linecap="butt"/>
<line x1="1763.4" y1="2683.5" x2="1763.4" y2="2707.5" stroke="#000" stroke-width="6" stroke-linecap="butt"/>
<line x1="1910.5" y1="2683.5" x2="1910.5" y2="2707.5" stroke="#000" stroke-width="6" stroke-linecap="butt"/>
<line x1="2057.5" y1="2683.5" x2="2057.5" y2="2707.5" stroke="#000" stroke-width="6" stroke-linecap="butt"/>
<path d="M293,1500.5 H2057.5 V2683.5 H293 Z" fill="none" stroke="#000" stroke-width="6"/>
<line x1="726.8" y1="1933" x2="726.8" y2="1986.5" stroke="#595959" stroke-width="6.3" stroke-linecap="butt"/>
<line x1="712.3" y1="1933" x2="741.3" y2="1933" stroke="#595959" stroke-width="6.5" stroke-linecap="butt"/>
<line x1="712.3" y1="1986.5" x2="741.3" y2="1986.5" stroke="#595959" stroke-width="6.5" stroke-linecap="butt"/>
<line x1="1019.2" y1="2139.6" x2="1019.2" y2="2217.7" stroke="#595959" stroke-width="6.3" stroke-linecap="butt"/>
<line x1="1004.7" y1="2139.6" x2="1033.7" y2="2139.6" stroke="#595959" stroke-width="6.5" stroke-linecap="butt"/>
<line x1="1004.7" y1="2217.7" x2="1033.7" y2="2217.7" stroke="#595959" stroke-width="6.5" stroke-linecap="butt"/>
<line x1="574.5" y1="2162.9" x2="574.5" y2="2211.7" stroke="#595959" stroke-width="6.3" stroke-linecap="butt"/>
<line x1="560" y1="2162.9" x2="589" y2="2162.9" stroke="#595959" stroke-width="6.5" stroke-linecap="butt"/>
<line x1="560" y1="2211.7" x2="589" y2="2211.7" stroke="#595959" stroke-width="6.5" stroke-linecap="butt"/>
<line x1="887.3" y1="1938.7" x2="887.3" y2="2029.7" stroke="#595959" stroke-width="6.3" stroke-linecap="butt"/>
<line x1="872.8" y1="1938.7" x2="901.8" y2="1938.7" stroke="#595959" stroke-width="6.5" stroke-linecap="butt"/>
<line x1="872.8" y1="2029.7" x2="901.8" y2="2029.7" stroke="#595959" stroke-width="6.5" stroke-linecap="butt"/>
<line x1="1307.4" y1="2272.1" x2="1307.4" y2="2332.9" stroke="#595959" stroke-width="6.3" stroke-linecap="butt"/>
<line x1="1292.9" y1="2272.1" x2="1321.9" y2="2272.1" stroke="#595959" stroke-width="6.5" stroke-linecap="butt"/>
<line x1="1292.9" y1="2332.9" x2="1321.9" y2="2332.9" stroke="#595959" stroke-width="6.5" stroke-linecap="butt"/>
<line x1="1447.9" y1="2626" x2="1447.9" y2="2680" stroke="#595959" stroke-width="6.3" stroke-linecap="butt"/>
<line x1="1433.4" y1="2626" x2="1462.4" y2="2626" stroke="#595959" stroke-width="6.5" stroke-linecap="butt"/>
<line x1="1433.4" y1="2680" x2="1462.4" y2="2680" stroke="#595959" stroke-width="6.5" stroke-linecap="butt"/>
<line x1="1307.4" y1="2563.4" x2="1307.4" y2="2624.6" stroke="#595959" stroke-width="6.3" stroke-linecap="butt"/>
<line x1="1292.9" y1="2563.4" x2="1321.9" y2="2563.4" stroke="#595959" stroke-width="6.5" stroke-linecap="butt"/>
<line x1="1292.9" y1="2624.6" x2="1321.9" y2="2624.6" stroke="#595959" stroke-width="6.5" stroke-linecap="butt"/>
<line x1="1595.5" y1="2322" x2="1595.5" y2="2376.5" stroke="#595959" stroke-width="6.3" stroke-linecap="butt"/>
<line x1="1581" y1="2322" x2="1610" y2="2322" stroke="#595959" stroke-width="6.5" stroke-linecap="butt"/>
<line x1="1581" y1="2376.5" x2="1610" y2="2376.5" stroke="#595959" stroke-width="6.5" stroke-linecap="butt"/>
<line x1="1739.2" y1="2286.2" x2="1739.2" y2="2364.2" stroke="#595959" stroke-width="6.3" stroke-linecap="butt"/>
<line x1="1724.7" y1="2286.2" x2="1753.7" y2="2286.2" stroke="#595959" stroke-width="6.5" stroke-linecap="butt"/>
<line x1="1724.7" y1="2364.2" x2="1753.7" y2="2364.2" stroke="#595959" stroke-width="6.5" stroke-linecap="butt"/>
<line x1="433.5" y1="2260.2" x2="433.5" y2="2311.4" stroke="#595959" stroke-width="6.3" stroke-linecap="butt"/>
<line x1="419" y1="2260.2" x2="448" y2="2260.2" stroke="#595959" stroke-width="6.5" stroke-linecap="butt"/>
<line x1="419" y1="2311.4" x2="448" y2="2311.4" stroke="#595959" stroke-width="6.5" stroke-linecap="butt"/>
<line x1="574.5" y1="2240.3" x2="574.5" y2="2293.7" stroke="#595959" stroke-width="6.3" stroke-linecap="butt"/>
<line x1="560" y1="2240.3" x2="589" y2="2240.3" stroke="#595959" stroke-width="6.5" stroke-linecap="butt"/>
<line x1="560" y1="2293.7" x2="589" y2="2293.7" stroke="#595959" stroke-width="6.5" stroke-linecap="butt"/>
<line x1="726.8" y1="2355.2" x2="726.8" y2="2437.7" stroke="#595959" stroke-width="6.3" stroke-linecap="butt"/>
<line x1="712.3" y1="2355.2" x2="741.3" y2="2355.2" stroke="#595959" stroke-width="6.5" stroke-linecap="butt"/>
<line x1="712.3" y1="2437.7" x2="741.3" y2="2437.7" stroke="#595959" stroke-width="6.5" stroke-linecap="butt"/>
<line x1="1153.8" y1="2467.4" x2="1153.8" y2="2545.5" stroke="#595959" stroke-width="6.3" stroke-linecap="butt"/>
<line x1="1139.3" y1="2467.4" x2="1168.3" y2="2467.4" stroke="#595959" stroke-width="6.5" stroke-linecap="butt"/>
<line x1="1139.3" y1="2545.5" x2="1168.3" y2="2545.5" stroke="#595959" stroke-width="6.5" stroke-linecap="butt"/>
<line x1="1739.2" y1="2375.6" x2="1739.2" y2="2458.1" stroke="#595959" stroke-width="6.3" stroke-linecap="butt"/>
<line x1="1724.7" y1="2375.6" x2="1753.7" y2="2375.6" stroke="#595959" stroke-width="6.5" stroke-linecap="butt"/>
<line x1="1724.7" y1="2458.1" x2="1753.7" y2="2458.1" stroke="#595959" stroke-width="6.5" stroke-linecap="butt"/>
<line x1="1153.8" y1="1964.9" x2="1153.8" y2="2020.6" stroke="#595959" stroke-width="6.3" stroke-linecap="butt"/>
<line x1="1139.3" y1="1964.9" x2="1168.3" y2="1964.9" stroke="#595959" stroke-width="6.5" stroke-linecap="butt"/>
<line x1="1139.3" y1="2020.6" x2="1168.3" y2="2020.6" stroke="#595959" stroke-width="6.5" stroke-linecap="butt"/>
<line x1="1307.4" y1="2005.2" x2="1307.4" y2="2059.6" stroke="#595959" stroke-width="6.3" stroke-linecap="butt"/>
<line x1="1292.9" y1="2005.2" x2="1321.9" y2="2005.2" stroke="#595959" stroke-width="6.5" stroke-linecap="butt"/>
<line x1="1292.9" y1="2059.6" x2="1321.9" y2="2059.6" stroke="#595959" stroke-width="6.5" stroke-linecap="butt"/>
<line x1="1447.9" y1="1956.5" x2="1447.9" y2="2069.2" stroke="#595959" stroke-width="6.3" stroke-linecap="butt"/>
<line x1="1433.4" y1="1956.5" x2="1462.4" y2="1956.5" stroke="#595959" stroke-width="6.5" stroke-linecap="butt"/>
<line x1="1433.4" y1="2069.2" x2="1462.4" y2="2069.2" stroke="#595959" stroke-width="6.5" stroke-linecap="butt"/>
<line x1="1595.5" y1="1758.7" x2="1595.5" y2="1870.8" stroke="#595959" stroke-width="6.3" stroke-linecap="butt"/>
<line x1="1581" y1="1758.7" x2="1610" y2="1758.7" stroke="#595959" stroke-width="6.5" stroke-linecap="butt"/>
<line x1="1581" y1="1870.8" x2="1610" y2="1870.8" stroke="#595959" stroke-width="6.5" stroke-linecap="butt"/>
<line x1="1739.2" y1="1665.3" x2="1739.2" y2="1749.1" stroke="#595959" stroke-width="6.3" stroke-linecap="butt"/>
<line x1="1724.7" y1="1665.3" x2="1753.7" y2="1665.3" stroke="#595959" stroke-width="6.5" stroke-linecap="butt"/>
<line x1="1724.7" y1="1749.1" x2="1753.7" y2="1749.1" stroke="#595959" stroke-width="6.5" stroke-linecap="butt"/>
<polyline points="291.5,2582.8 433.5,2481.5 574.5,2187.3 726.8,1956.9 887.3,2028 1019.2,2178 1153.8,2281.7 1307.4,2402 1447.9,2489.4 1595.5,2530.8 1739.2,2571.5" fill="none" stroke="#FF0000" stroke-width="6.5" stroke-linejoin="round" stroke-linecap="round"/>
<rect x="270.5" y="2561.8" width="42" height="42" fill="#fff" stroke="#FF0000" stroke-width="5.2"/>
<rect x="412.5" y="2460.5" width="42" height="42" fill="#fff" stroke="#FF0000" stroke-width="5.2"/>
<rect x="553.5" y="2166.3" width="42" height="42" fill="#fff" stroke="#FF0000" stroke-width="5.2"/>
<rect x="705.8" y="1935.9" width="42" height="42" fill="#fff" stroke="#FF0000" stroke-width="5.2"/>
<rect x="866.3" y="2007" width="42" height="42" fill="#fff" stroke="#FF0000" stroke-width="5.2"/>
<rect x="998.2" y="2157" width="42" height="42" fill="#fff" stroke="#FF0000" stroke-width="5.2"/>
<rect x="1132.8" y="2260.7" width="42" height="42" fill="#fff" stroke="#FF0000" stroke-width="5.2"/>
<rect x="1286.4" y="2381" width="42" height="42" fill="#fff" stroke="#FF0000" stroke-width="5.2"/>
<rect x="1426.9" y="2468.4" width="42" height="42" fill="#fff" stroke="#FF0000" stroke-width="5.2"/>
<rect x="1574.5" y="2509.8" width="42" height="42" fill="#fff" stroke="#FF0000" stroke-width="5.2"/>
<rect x="1718.2" y="2550.5" width="42" height="42" fill="#fff" stroke="#FF0000" stroke-width="5.2"/>
<polyline points="291.5,2582.8 433.5,2488.9 574.5,2185.6 726.8,1958 887.3,1984.2 1019.2,2060.9 1153.8,2147.3 1307.4,2299.7 1447.9,2583.7 1595.5,2583.7 1739.2,2583.7" fill="none" stroke="#66CC3F" stroke-width="6.1" stroke-linejoin="round" stroke-linecap="round"/>
<rect x="270.2" y="2561.6" width="42.5" height="42.5" fill="#66CC3F"/>
<rect x="412.2" y="2467.7" width="42.5" height="42.5" fill="#66CC3F"/>
<rect x="553.2" y="2164.3" width="42.5" height="42.5" fill="#66CC3F"/>
<rect x="705.5" y="1936.8" width="42.5" height="42.5" fill="#66CC3F"/>
<rect x="866" y="1963" width="42.5" height="42.5" fill="#66CC3F"/>
<rect x="998" y="2039.7" width="42.5" height="42.5" fill="#66CC3F"/>
<rect x="1132.5" y="2126.1" width="42.5" height="42.5" fill="#66CC3F"/>
<rect x="1286.2" y="2278.4" width="42.5" height="42.5" fill="#66CC3F"/>
<rect x="1426.7" y="2562.4" width="42.5" height="42.5" fill="#66CC3F"/>
<rect x="1574.2" y="2562.4" width="42.5" height="42.5" fill="#66CC3F"/>
<rect x="1718" y="2562.4" width="42.5" height="42.5" fill="#66CC3F"/>
<polyline points="291.5,2640 433.5,2642 574.5,2637.6 726.8,2646.6 887.3,2640 1019.2,2646.6 1153.8,2645.3 1307.4,2645.3 1447.9,2650 1595.5,2647.2 1739.2,2650" fill="none" stroke="#FF0000" stroke-width="6.2" stroke-linejoin="round" stroke-linecap="round"/>
<path d="M291.5,2620.7 L310.8,2640 L291.5,2659.3 L272.2,2640 Z" fill="#fff" stroke="#FF0000" stroke-width="5" stroke-linejoin="miter"/>
<path d="M433.5,2622.7 L452.8,2642 L433.5,2661.3 L414.2,2642 Z" fill="#fff" stroke="#FF0000" stroke-width="5" stroke-linejoin="miter"/>
<path d="M574.5,2618.3 L593.8,2637.6 L574.5,2656.9 L555.2,2637.6 Z" fill="#fff" stroke="#FF0000" stroke-width="5" stroke-linejoin="miter"/>
<path d="M726.8,2627.3 L746.1,2646.6 L726.8,2665.9 L707.5,2646.6 Z" fill="#fff" stroke="#FF0000" stroke-width="5" stroke-linejoin="miter"/>
<path d="M887.3,2620.7 L906.6,2640 L887.3,2659.3 L868,2640 Z" fill="#fff" stroke="#FF0000" stroke-width="5" stroke-linejoin="miter"/>
<path d="M1019.2,2627.3 L1038.5,2646.6 L1019.2,2665.9 L999.9,2646.6 Z" fill="#fff" stroke="#FF0000" stroke-width="5" stroke-linejoin="miter"/>
<path d="M1153.8,2626 L1173.1,2645.3 L1153.8,2664.6 L1134.5,2645.3 Z" fill="#fff" stroke="#FF0000" stroke-width="5" stroke-linejoin="miter"/>
<path d="M1307.4,2626 L1326.7,2645.3 L1307.4,2664.6 L1288.1,2645.3 Z" fill="#fff" stroke="#FF0000" stroke-width="5" stroke-linejoin="miter"/>
<path d="M1447.9,2630.7 L1467.2,2650 L1447.9,2669.3 L1428.6,2650 Z" fill="#fff" stroke="#FF0000" stroke-width="5" stroke-linejoin="miter"/>
<path d="M1595.5,2627.9 L1614.8,2647.2 L1595.5,2666.5 L1576.2,2647.2 Z" fill="#fff" stroke="#FF0000" stroke-width="5" stroke-linejoin="miter"/>
<path d="M1739.2,2630.7 L1758.5,2650 L1739.2,2669.3 L1719.9,2650 Z" fill="#fff" stroke="#FF0000" stroke-width="5" stroke-linejoin="miter"/>
<polyline points="291.5,2639.8 433.5,2638 574.5,2643.3 726.8,2639.8 887.3,2631.2 1019.2,2605 1153.8,2589 1307.4,2594 1447.9,2488 1595.5,2347.7 1739.2,2324.6" fill="none" stroke="#595959" stroke-width="6.2" stroke-linejoin="round" stroke-linecap="round"/>
<path d="M291.5,2612.8 L318.5,2639.8 L291.5,2666.8 L264.5,2639.8 Z" fill="#595959" stroke-linejoin="miter"/>
<path d="M433.5,2611 L460.5,2638 L433.5,2665 L406.5,2638 Z" fill="#595959" stroke-linejoin="miter"/>
<path d="M574.5,2616.3 L601.5,2643.3 L574.5,2670.3 L547.5,2643.3 Z" fill="#595959" stroke-linejoin="miter"/>
<path d="M726.8,2612.8 L753.8,2639.8 L726.8,2666.8 L699.8,2639.8 Z" fill="#595959" stroke-linejoin="miter"/>
<path d="M887.3,2604.2 L914.3,2631.2 L887.3,2658.2 L860.3,2631.2 Z" fill="#595959" stroke-linejoin="miter"/>
<path d="M1019.2,2578 L1046.2,2605 L1019.2,2632 L992.2,2605 Z" fill="#595959" stroke-linejoin="miter"/>
<path d="M1153.8,2562 L1180.8,2589 L1153.8,2616 L1126.8,2589 Z" fill="#595959" stroke-linejoin="miter"/>
<path d="M1307.4,2567 L1334.4,2594 L1307.4,2621 L1280.4,2594 Z" fill="#595959" stroke-linejoin="miter"/>
<path d="M1447.9,2461 L1474.9,2488 L1447.9,2515 L1420.9,2488 Z" fill="#595959" stroke-linejoin="miter"/>
<path d="M1595.5,2320.7 L1622.5,2347.7 L1595.5,2374.7 L1568.5,2347.7 Z" fill="#595959" stroke-linejoin="miter"/>
<path d="M1739.2,2297.6 L1766.2,2324.6 L1739.2,2351.6 L1712.2,2324.6 Z" fill="#595959" stroke-linejoin="miter"/>
<polyline points="291.5,2228.9 433.5,2287.8 574.5,2269 726.8,2395 887.3,2326.7 1019.2,2473.8 1153.8,2504.5 1307.4,2454.6 1447.9,2415.8 1595.5,2444.6 1739.2,2416.6" fill="none" stroke="#7428A6" stroke-width="6.3" stroke-linejoin="round" stroke-linecap="round"/>
<circle cx="291.5" cy="2228.9" r="21" fill="#fff" stroke="#7428A6" stroke-width="5.2"/>
<circle cx="433.5" cy="2287.8" r="21" fill="#fff" stroke="#7428A6" stroke-width="5.2"/>
<circle cx="574.5" cy="2269" r="21" fill="#fff" stroke="#7428A6" stroke-width="5.2"/>
<circle cx="726.8" cy="2395" r="21" fill="#fff" stroke="#7428A6" stroke-width="5.2"/>
<circle cx="887.3" cy="2326.7" r="21" fill="#fff" stroke="#7428A6" stroke-width="5.2"/>
<circle cx="1019.2" cy="2473.8" r="21" fill="#fff" stroke="#7428A6" stroke-width="5.2"/>
<circle cx="1153.8" cy="2504.5" r="21" fill="#fff" stroke="#7428A6" stroke-width="5.2"/>
<circle cx="1307.4" cy="2454.6" r="21" fill="#fff" stroke="#7428A6" stroke-width="5.2"/>
<circle cx="1447.9" cy="2415.8" r="21" fill="#fff" stroke="#7428A6" stroke-width="5.2"/>
<circle cx="1595.5" cy="2444.6" r="21" fill="#fff" stroke="#7428A6" stroke-width="5.2"/>
<circle cx="1739.2" cy="2416.6" r="21" fill="#fff" stroke="#7428A6" stroke-width="5.2"/>
<polyline points="291.5,2228.9 433.5,2298.6 574.5,2298.6 726.8,2386.5 887.3,2198.7 1019.2,2100.5 1153.8,1992.4 1307.4,2032.1 1447.9,2012.9 1595.5,1815.7 1739.2,1707.5" fill="none" stroke="#0070C0" stroke-width="6.6" stroke-linejoin="round" stroke-linecap="round"/>
<circle cx="291.5" cy="2228.9" r="23.8" fill="#0070C0"/>
<circle cx="433.5" cy="2298.6" r="23.8" fill="#0070C0"/>
<circle cx="574.5" cy="2298.6" r="23.8" fill="#0070C0"/>
<circle cx="726.8" cy="2386.5" r="23.8" fill="#0070C0"/>
<circle cx="887.3" cy="2198.7" r="23.8" fill="#0070C0"/>
<circle cx="1019.2" cy="2100.5" r="23.8" fill="#0070C0"/>
<circle cx="1153.8" cy="1992.4" r="23.8" fill="#0070C0"/>
<circle cx="1307.4" cy="2032.1" r="23.8" fill="#0070C0"/>
<circle cx="1447.9" cy="2012.9" r="23.8" fill="#0070C0"/>
<circle cx="1595.5" cy="1815.7" r="23.8" fill="#0070C0"/>
<circle cx="1739.2" cy="1707.5" r="23.8" fill="#0070C0"/>
<line x1="405" y1="1540" x2="534.4" y2="1540" stroke="#FF0000" stroke-width="5.5" stroke-linecap="round"/>
<rect x="454.6" y="1525" width="30" height="30" fill="#fff" stroke="#FF0000" stroke-width="4.5"/>
<text x="544.1" y="1556" font-size="50.7" fill="#000" textLength="239.9" lengthAdjust="spacingAndGlyphs">Lac_Batch</text>
<line x1="405" y1="1607.4" x2="534.4" y2="1607.4" stroke="#66CC3F" stroke-width="5.5" stroke-linecap="round"/>
<rect x="450.9" y="1588.7" width="37.5" height="37.5" fill="#66CC3F"/>
<text x="544.1" y="1623.4" font-size="50.7" fill="#000" textLength="473.6" lengthAdjust="spacingAndGlyphs">Lac_Fed-batch_F1-4</text>
<line x1="405" y1="1674.8" x2="534.4" y2="1674.8" stroke="#FF0000" stroke-width="5.5" stroke-linecap="round"/>
<path d="M469.6,1659.3 L485.1,1674.8 L469.6,1690.3 L454.1,1674.8 Z" fill="#fff" stroke="#FF0000" stroke-width="4.5" stroke-linejoin="miter"/>
<text x="544.1" y="1690.8" font-size="50.7" fill="#000" textLength="264.9" lengthAdjust="spacingAndGlyphs">NH3_Batch</text>
<line x1="405" y1="1742.2" x2="534.4" y2="1742.2" stroke="#595959" stroke-width="5.5" stroke-linecap="round"/>
<path d="M469.6,1723.2 L488.6,1742.2 L469.6,1761.2 L450.6,1742.2 Z" fill="#595959" stroke-linejoin="miter"/>
<text x="544.1" y="1758.2" font-size="50.7" fill="#000" textLength="499.4" lengthAdjust="spacingAndGlyphs">NH3_Fed-batch_F1-4</text>
<line x1="405" y1="1809.6" x2="534.4" y2="1809.6" stroke="#7428A6" stroke-width="5.5" stroke-linecap="round"/>
<circle cx="469.6" cy="1809.6" r="16.5" fill="#fff" stroke="#7030A0" stroke-width="4.5"/>
<text x="545.9" y="1825.6" font-size="50.7" fill="#000" textLength="268.1" lengthAdjust="spacingAndGlyphs">Osm_Batch</text>
<line x1="405" y1="1877" x2="534.4" y2="1877" stroke="#0070C0" stroke-width="5.5" stroke-linecap="round"/>
<circle cx="469.6" cy="1877" r="19.2" fill="#0070C0"/>
<text x="545.9" y="1893" font-size="50.7" fill="#000" textLength="501.6" lengthAdjust="spacingAndGlyphs">Osm_Fed-batch_F1-4</text>
<text x="1861.7" y="1652.4" font-size="118" font-weight="bold" fill="#000" textLength="70.2" lengthAdjust="spacingAndGlyphs">B</text>
<text x="182.1" y="2704" font-size="68" fill="#000" textLength="39.7" lengthAdjust="spacingAndGlyphs">0</text>
<text x="182.3" y="2506.8" font-size="68" fill="#000" textLength="39.7" lengthAdjust="spacingAndGlyphs">5</text>
<text x="142.4" y="2309.7" font-size="68" fill="#000" textLength="79.4" lengthAdjust="spacingAndGlyphs">10</text>
<text x="142.6" y="2112.5" font-size="68" fill="#000" textLength="79.4" lengthAdjust="spacingAndGlyphs">15</text>
<text x="142.4" y="1915.3" font-size="68" fill="#000" textLength="79.4" lengthAdjust="spacingAndGlyphs">20</text>
<text x="142.6" y="1718.2" font-size="68" fill="#000" textLength="79.4" lengthAdjust="spacingAndGlyphs">25</text>
<text x="142.4" y="1521" font-size="68" fill="#000" textLength="79.4" lengthAdjust="spacingAndGlyphs">30</text>
<text x="2129" y="2704.5" font-size="68" fill="#000" textLength="116.9" lengthAdjust="spacingAndGlyphs">270</text>
<text x="2129" y="2507.3" font-size="68" fill="#000" textLength="116.9" lengthAdjust="spacingAndGlyphs">280</text>
<text x="2129" y="2310.2" font-size="68" fill="#000" textLength="116.9" lengthAdjust="spacingAndGlyphs">290</text>
<text x="2129.8" y="2113" font-size="68" fill="#000" textLength="116.9" lengthAdjust="spacingAndGlyphs">300</text>
<text x="2129.8" y="1915.8" font-size="68" fill="#000" textLength="116.9" lengthAdjust="spacingAndGlyphs">310</text>
<text x="2129.8" y="1718.7" font-size="68" fill="#000" textLength="116.9" lengthAdjust="spacingAndGlyphs">320</text>
<text x="2129.8" y="1521.5" font-size="68" fill="#000" textLength="116.9" lengthAdjust="spacingAndGlyphs">330</text>
<text x="274" y="2805" font-size="70" font-weight="bold" fill="#595959" textLength="38.2" lengthAdjust="spacingAndGlyphs">0</text>
<text x="568.2" y="2805" font-size="70" font-weight="bold" fill="#595959" textLength="38.2" lengthAdjust="spacingAndGlyphs">2</text>
<text x="861.8" y="2805" font-size="70" font-weight="bold" fill="#595959" textLength="38.2" lengthAdjust="spacingAndGlyphs">4</text>
<text x="1156.2" y="2805" font-size="70" font-weight="bold" fill="#595959" textLength="38.2" lengthAdjust="spacingAndGlyphs">6</text>
<text x="1450.2" y="2805" font-size="70" font-weight="bold" fill="#595959" textLength="38.2" lengthAdjust="spacingAndGlyphs">8</text>
<text x="1724.5" y="2805" font-size="70" font-weight="bold" fill="#595959" textLength="76.3" lengthAdjust="spacingAndGlyphs">10</text>
<text x="2018.6" y="2805" font-size="70" font-weight="bold" fill="#595959" textLength="76.3" lengthAdjust="spacingAndGlyphs">12</text>
<text x="1004.2" y="2869.7" font-size="71.4" font-weight="bold" fill="#000" textLength="369.8" lengthAdjust="spacingAndGlyphs">Time (days)</text>
<text x="-2489.2" y="0" transform="translate(107.2,0) rotate(-90)" font-size="70.5" font-weight="bold" fill="#000" textLength="813" lengthAdjust="spacingAndGlyphs">NH<tspan font-size="46" dy="13">3</tspan><tspan dy="-13"> &amp; lactate conc. (mM)</tspan></text>
<text x="-2483.3" y="0" transform="translate(2338,0) rotate(-90)" font-size="71" font-weight="bold" fill="#000" textLength="727.5" lengthAdjust="spacingAndGlyphs">Osmolality (mOsm/kg)</text>
<line x1="352.2" y1="3840.5" x2="2269.7" y2="3840.5" stroke="#878787" stroke-width="3" stroke-linecap="butt"/>
<line x1="352.2" y1="3696.4" x2="2269.7" y2="3696.4" stroke="#878787" stroke-width="3" stroke-linecap="butt"/>
<line x1="352.2" y1="3552.3" x2="2269.7" y2="3552.3" stroke="#878787" stroke-width="3" stroke-linecap="butt"/>
<line x1="352.2" y1="3408.1" x2="2269.7" y2="3408.1" stroke="#878787" stroke-width="3" stroke-linecap="butt"/>
<line x1="352.2" y1="3264" x2="2269.7" y2="3264" stroke="#878787" stroke-width="3" stroke-linecap="butt"/>
<line x1="352.2" y1="3119.9" x2="2269.7" y2="3119.9" stroke="#878787" stroke-width="3" stroke-linecap="butt"/>
<line x1="326.2" y1="3984.6" x2="349" y2="3984.6" stroke="#878787" stroke-width="3" stroke-linecap="butt"/>
<line x1="326.2" y1="3840.5" x2="349" y2="3840.5" stroke="#878787" stroke-width="3" stroke-linecap="butt"/>
<line x1="326.2" y1="3696.4" x2="349" y2="3696.4" stroke="#878787" stroke-width="3" stroke-linecap="butt"/>
<line x1="326.2" y1="3552.3" x2="349" y2="3552.3" stroke="#878787" stroke-width="3" stroke-linecap="butt"/>
<line x1="326.2" y1="3408.1" x2="349" y2="3408.1" stroke="#878787" stroke-width="3" stroke-linecap="butt"/>
<line x1="326.2" y1="3264" x2="349" y2="3264" stroke="#878787" stroke-width="3" stroke-linecap="butt"/>
<line x1="326.2" y1="3119.9" x2="349" y2="3119.9" stroke="#878787" stroke-width="3" stroke-linecap="butt"/>
<line x1="326.2" y1="2975.8" x2="349" y2="2975.8" stroke="#878787" stroke-width="3" stroke-linecap="butt"/>
<rect x="1473.4" y="3505" width="155.4" height="70" fill="#fff"/>
<rect x="1667.2" y="3075" width="175" height="95" fill="#fff"/>
<rect x="495.2" y="3854.9" width="192" height="129.7" fill="#2A7FC1"/>
<rect x="974.7" y="3840.5" width="192" height="144.1" fill="#DB5350"/>
<rect x="1453.8" y="3638.7" width="192" height="345.9" fill="#DB5350"/>
<rect x="1934.3" y="3119.9" width="192" height="864.7" fill="#DB5350"/>
<rect x="577.4" y="3847.3" width="27.7" height="13.7" fill="#000"/>
<rect x="1056.5" y="3836.9" width="28.6" height="5.2" fill="#000"/>
<line x1="1550.8" y1="3599.2" x2="1550.8" y2="3679.2" stroke="#000" stroke-width="7" stroke-linecap="butt"/>
<line x1="1536.3" y1="3599.2" x2="1565.3" y2="3599.2" stroke="#000" stroke-width="6.3" stroke-linecap="butt"/>
<line x1="1536.3" y1="3679.2" x2="1565.3" y2="3679.2" stroke="#000" stroke-width="6.3" stroke-linecap="butt"/>
<line x1="2031" y1="3099.2" x2="2031" y2="3142.8" stroke="#000" stroke-width="7.5" stroke-linecap="butt"/>
<line x1="2016.8" y1="3099.2" x2="2045.2" y2="3099.2" stroke="#000" stroke-width="6.5" stroke-linecap="butt"/>
<line x1="2016.8" y1="3142.8" x2="2045.2" y2="3142.8" stroke="#000" stroke-width="6.5" stroke-linecap="butt"/>
<line x1="350.2" y1="2975.8" x2="2269.7" y2="2975.8" stroke="#000" stroke-width="7" stroke-linecap="butt"/>
<line x1="2269.7" y1="2972.3" x2="2269.7" y2="3987.8" stroke="#000" stroke-width="6.5" stroke-linecap="butt"/>
<line x1="351.2" y1="3984.6" x2="2272.7" y2="3984.6" stroke="#000" stroke-width="6.5" stroke-linecap="butt"/>
<line x1="349.6" y1="2972.3" x2="349.6" y2="3984.6" stroke="#808080" stroke-width="2.8" stroke-linecap="butt"/>
<line x1="354.6" y1="2975.8" x2="354.6" y2="3984.6" stroke="#808080" stroke-width="2.8" stroke-linecap="butt"/>
<text x="240.1" y="4005.6" font-size="68" fill="#000" textLength="39.7" lengthAdjust="spacingAndGlyphs">0</text>
<text x="240.3" y="3861.5" font-size="68" fill="#000" textLength="39.7" lengthAdjust="spacingAndGlyphs">5</text>
<text x="200.4" y="3717.4" font-size="68" fill="#000" textLength="79.4" lengthAdjust="spacingAndGlyphs">10</text>
<text x="200.6" y="3573.3" font-size="68" fill="#000" textLength="79.4" lengthAdjust="spacingAndGlyphs">15</text>
<text x="200.4" y="3429.1" font-size="68" fill="#000" textLength="79.4" lengthAdjust="spacingAndGlyphs">20</text>
<text x="200.6" y="3285" font-size="68" fill="#000" textLength="79.4" lengthAdjust="spacingAndGlyphs">25</text>
<text x="200.4" y="3140.9" font-size="68" fill="#000" textLength="79.4" lengthAdjust="spacingAndGlyphs">30</text>
<text x="200.6" y="2996.8" font-size="68" fill="#000" textLength="79.4" lengthAdjust="spacingAndGlyphs">35</text>
<text x="550" y="3808.4" font-size="57.5" fill="#000" textLength="81.5" lengthAdjust="spacingAndGlyphs">4.5</text>
<text x="1030.3" y="3792.8" font-size="57.5" fill="#000" textLength="81.4" lengthAdjust="spacingAndGlyphs">5.0</text>
<text x="1494.9" y="3559.2" font-size="57.5" fill="#000" textLength="113.1" lengthAdjust="spacingAndGlyphs">12.0</text>
<text x="1974.2" y="3073.3" font-size="57.5" fill="#000" textLength="114.1" lengthAdjust="spacingAndGlyphs">30.0</text>
<text x="1716.4" y="3159.6" font-size="118" font-weight="bold" fill="#000" textLength="67.8" lengthAdjust="spacingAndGlyphs">C</text>
<text x="558.2" y="4055" font-size="58" font-weight="bold" fill="#000" textLength="79" lengthAdjust="spacingAndGlyphs">1.0</text>
<text x="1041.8" y="4055" font-size="58" font-weight="bold" fill="#000" textLength="79" lengthAdjust="spacingAndGlyphs">1.2</text>
<text x="1509.3" y="4055" font-size="58" font-weight="bold" fill="#000" textLength="79" lengthAdjust="spacingAndGlyphs">2.5</text>
<text x="2012.8" y="4055" font-size="58" font-weight="bold" fill="#000" textLength="79" lengthAdjust="spacingAndGlyphs">5.0</text>
<text x="365.4" y="4133" font-size="59" font-weight="bold" fill="#2E86C8" textLength="464.6" lengthAdjust="spacingAndGlyphs">SFM4Transfx-293</text>
<text x="521.1" y="4211.5" font-size="59" font-weight="bold" fill="#2E86C8" textLength="152.4" lengthAdjust="spacingAndGlyphs">batch</text>
<text x="962.9" y="4129.3" font-size="59" font-weight="bold" fill="#E05252" textLength="239.3" lengthAdjust="spacingAndGlyphs">HEK SFM</text>
<text x="1006.8" y="4207.8" font-size="59" font-weight="bold" fill="#E05252" textLength="152.2" lengthAdjust="spacingAndGlyphs">batch</text>
<text x="1547.5" y="4132.3" font-size="59" font-weight="bold" fill="#E05252" textLength="508.6" lengthAdjust="spacingAndGlyphs">HEK SFM fed-batch</text>
<text x="671.1" y="4312.5" font-size="69" font-weight="bold" fill="#000" textLength="1210.5" lengthAdjust="spacingAndGlyphs">Cell density (10<tspan font-size="44" dy="-24">6</tspan><tspan dy="24"> cells/mL) at infection</tspan></text>
<text x="-3995.5" y="0" transform="translate(109,0) rotate(-90)" font-size="71.8" font-weight="bold" fill="#000" textLength="965.9" lengthAdjust="spacingAndGlyphs">Virus productivity (10<tspan font-size="44" dy="-25">9</tspan><tspan dy="25"> vp/mL)</tspan></text>
</svg>
</body></html>
